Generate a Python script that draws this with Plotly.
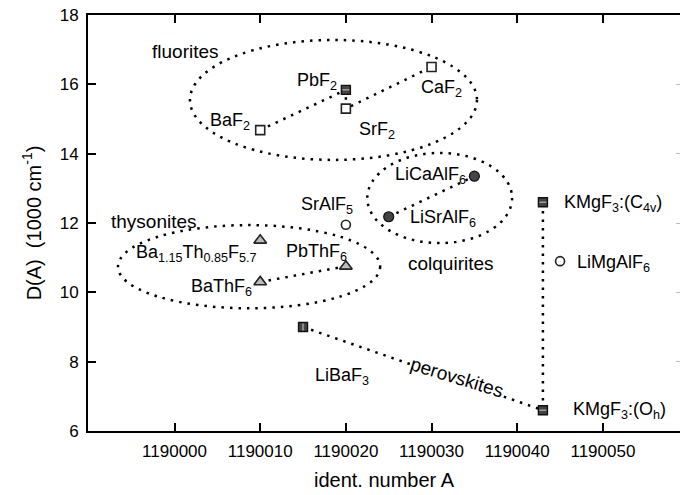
import plotly.graph_objects as go

# Compounds: ident. number A and D(A) in units of 1000 cm^-1
fluor_names = ["BaF<sub>2</sub>", "PbF<sub>2</sub>", "SrF<sub>2</sub>", "CaF<sub>2</sub>"]
fluor_x = [1190010, 1190020, 1190020, 1190030]
fluor_y = [14.68, 15.84, 15.3, 16.5]

thys_names = ["Ba<sub>1.15</sub>Th<sub>0.85</sub>F<sub>5.7</sub>", "BaThF<sub>6</sub>", "PbThF<sub>6</sub>"]
thys_x = [1190010, 1190010, 1190020]
thys_y = [11.5, 10.3, 10.75]

colq_names = ["LiSrAlF<sub>6</sub>", "LiCaAlF<sub>6</sub>"]
colq_x = [1190025, 1190035]
colq_y = [12.18, 13.35]

other_names = ["SrAlF<sub>5</sub>", "LiMgAlF<sub>6</sub>"]
other_x = [1190020, 1190045]
other_y = [11.95, 10.9]

perov_names = ["LiBaF<sub>3</sub>", "KMgF<sub>3</sub>:(O<sub>h</sub>)", "KMgF<sub>3</sub>:(C<sub>4v</sub>)"]
perov_x = [1190015, 1190043, 1190043]
perov_y = [9.0, 6.6, 12.6]

x_ticks = [1190000, 1190010, 1190020, 1190030, 1190040, 1190050]
y_ticks = [6, 8, 10, 12, 14, 16, 18]

FONT = "Liberation Sans, Arial, Helvetica, sans-serif"
DOT = dict(color="black", width=2.5, dash="2.5px,6px")

fig = go.Figure()

# connecting dotted lines inside each family
fig.add_trace(go.Scatter(x=fluor_x, y=fluor_y, mode="lines", line=DOT, hoverinfo="skip"))
fig.add_trace(go.Scatter(x=thys_x[1:], y=thys_y[1:], mode="lines", line=DOT, hoverinfo="skip"))
fig.add_trace(go.Scatter(x=colq_x, y=colq_y, mode="lines", line=DOT, hoverinfo="skip"))
fig.add_trace(go.Scatter(x=perov_x, y=perov_y, mode="lines", line=DOT, hoverinfo="skip"))

# markers
open_sq = dict(symbol="square", size=9, color="white", line=dict(color="#222", width=1.6))
fig.add_trace(go.Scatter(x=[fluor_x[i] for i in (0, 2, 3)], y=[fluor_y[i] for i in (0, 2, 3)],
                         mode="markers", marker=open_sq))
hatched = dict(symbol="square", size=9, color="#444", line=dict(color="#111", width=1.4))
fig.add_trace(go.Scatter(x=[fluor_x[1]] + perov_x, y=[fluor_y[1]] + perov_y,
                         mode="markers", marker=hatched))
fig.add_trace(go.Scatter(x=perov_x[1:] + [fluor_x[1]], y=perov_y[1:] + [fluor_y[1]], mode="markers",
                         marker=dict(symbol="line-ew-open", size=5, color="#ccc",
                                     line=dict(width=1))))
fig.add_trace(go.Scatter(x=perov_x[:1], y=perov_y[:1], mode="markers",
                         marker=dict(symbol="line-ns-open", size=5, color="#ccc",
                                     line=dict(width=1))))
fig.add_trace(go.Scatter(x=thys_x, y=thys_y, mode="markers",
                         marker=dict(symbol="triangle-up", size=11, color="#bbb",
                                     line=dict(color="#222", width=1.6))))
fig.add_trace(go.Scatter(x=colq_x, y=colq_y, mode="markers",
                         marker=dict(symbol="circle", size=10, color="#444",
                                     line=dict(color="#111", width=1.2))))
fig.add_trace(go.Scatter(x=other_x, y=other_y, mode="markers",
                         marker=dict(symbol="circle", size=9, color="white",
                                     line=dict(color="#222", width=1.6))))
# carrier for the right-hand tick marks
fig.add_trace(go.Scatter(x=[x_ticks[0]], y=[y_ticks[0]], yaxis="y2", mode="markers",
                         marker=dict(opacity=0), hoverinfo="skip"))

# family outlines
for x0, x1, y0, y1 in [(1190001.8, 1190035.3, 13.82, 17.28),
                       (1190022.5, 1190039.4, 11.42, 14.02),
                       (1189993.4, 1190024.0, 9.54, 11.94)]:
    fig.add_shape(type="circle", xref="x", yref="y", x0=x0, x1=x1, y0=y0, y1=y1,
                  line=DOT, layer="below")

# compound labels (anchor, x shift, y shift in px)
label_pos = {
    "BaF<sub>2</sub>": ("right", -8, 9),
    "PbF<sub>2</sub>": ("right", -7, 8),
    "SrF<sub>2</sub>": ("left", 11, -22),
    "CaF<sub>2</sub>": ("left", -13, -21),
    "Ba<sub>1.15</sub>Th<sub>0.85</sub>F<sub>5.7</sub>": ("right", -1, -13),
    "BaThF<sub>6</sub>": ("right", -6, -6),
    "PbThF<sub>6</sub>": ("right", 3, 14),
    "LiSrAlF<sub>6</sub>": ("left", 19, -2),
    "LiCaAlF<sub>6</sub>": ("right", -6, 1),
    "SrAlF<sub>5</sub>": ("right", 9, 19),
    "LiMgAlF<sub>6</sub>": ("left", 15, -2),
    "LiBaF<sub>3</sub>": ("left", 10, -49),
    "KMgF<sub>3</sub>:(O<sub>h</sub>)": ("left", 28, 0),
    "KMgF<sub>3</sub>:(C<sub>4v</sub>)": ("left", 19, -1),
}
names = fluor_names + thys_names + colq_names + other_names + perov_names
xs = fluor_x + thys_x + colq_x + other_x + perov_x
ys = fluor_y + thys_y + colq_y + other_y + perov_y
for n, xv, yv in zip(names, xs, ys):
    anc, dx, dy = label_pos[n]
    fig.add_annotation(x=xv, y=yv, text=n, showarrow=False, xanchor=anc, yanchor="middle",
                       xshift=dx, yshift=dy, font=dict(size=18, color="black", family=FONT))

# family names
for txt, xv, yv, ang, anc, bg in [("fluorites", 1189997.2, 16.96, 0, "left", None),
                                  ("thysonites", 1189992.5, 12.03, 0, "left", None),
                                  ("colquirites", 1190027.1, 10.84, 0, "left", None),
                                  ("perovskites", 1190033.0, 7.55, 17, "center", "white")]:
    fig.add_annotation(x=xv, y=yv, text=txt, showarrow=False, xanchor=anc, yanchor="middle",
                       textangle=ang, bgcolor=bg, borderpad=0,
                       font=dict(size=19, color="black", family=FONT))

axis_common = dict(showgrid=False, zeroline=False, ticks="inside", ticklen=8, tickwidth=1.5,
                   tickcolor="black", linecolor="black", linewidth=2,
                   tickfont=dict(size=17, color="black", family=FONT))
fig.update_layout(
    width=680, height=495, showlegend=False,
    margin=dict(l=88, r=0, t=15, b=64),
    plot_bgcolor="white", paper_bgcolor="white",
    xaxis=dict(range=[1189989.9, 1190059.0], tickvals=x_ticks, tickformat="d",
               showline=True, mirror="ticks", ticklabelstandoff=4,
               title=dict(text="ident. number A", font=dict(size=20, color="black", family=FONT),
                          standoff=13),
               **axis_common),
    yaxis=dict(range=[6, 18], tickvals=y_ticks, showline=True, mirror=False, ticklabelstandoff=4,
               title=dict(text="D(A)\u00a0\u00a0(1000 cm<sup>-1</sup>)",
                          font=dict(size=20, color="black", family=FONT), standoff=13),
               **axis_common),
    yaxis2=dict(range=[6, 18], tickvals=y_ticks, overlaying="y", side="right", anchor="x",
                showgrid=False, zeroline=False, showline=False, showticklabels=False,
                ticks="inside", ticklen=4, tickwidth=1, tickcolor="#bbb"),
)

fig.write_html("out.html")
